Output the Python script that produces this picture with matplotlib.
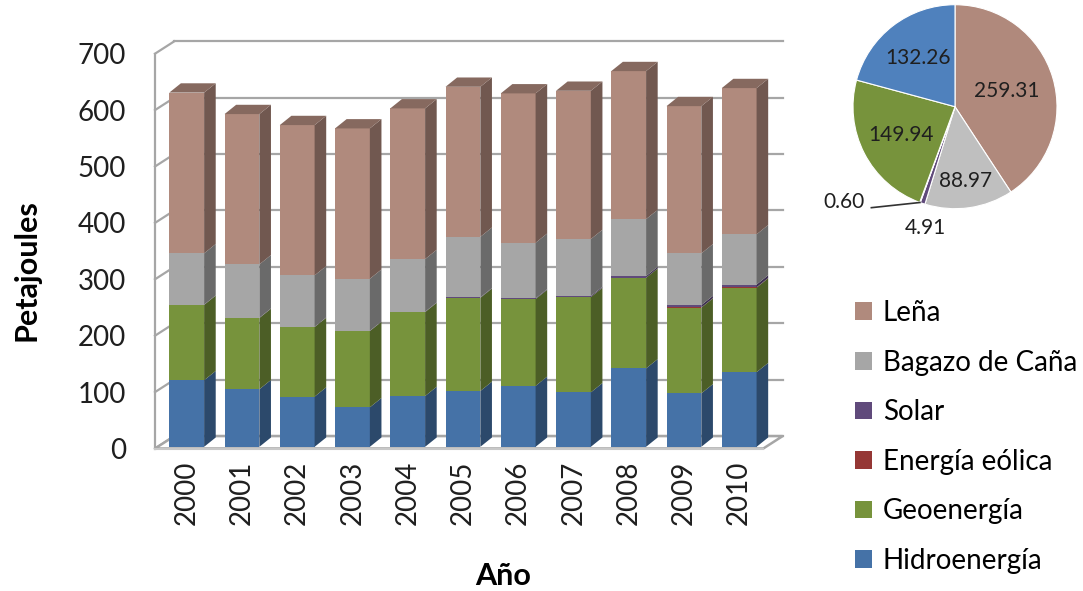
import matplotlib
matplotlib.use('Agg')
import numpy as np
import matplotlib.pyplot as plt
from matplotlib.patches import Polygon, Patch
from matplotlib.colors import to_rgb

plt.rcParams['font.family'] = ['Lato', 'DejaVu Sans']

# Energía primaria renovable, petajoules
years = ['2000', '2001', '2002', '2003', '2004', '2005', '2006', '2007', '2008', '2009', '2010']
hidro = [118.0, 102.0, 89.0, 70.0, 90.0, 99.0, 108.0, 96.5, 139.0, 94.7, 132.26]
geo = [133.6, 126.3, 123.3, 135.2, 148.8, 165.1, 153.9, 168.9, 160.7, 152.0, 149.94]
eolica = [0.0, 0.0, 0.0, 0.0, 0.0, 0.0, 0.0, 0.0, 0.0, 0.3, 0.60]
solar = [0.4, 0.4, 0.5, 0.5, 0.6, 0.8, 1.2, 1.8, 3.0, 4.2, 4.91]
bagazo = [91.0, 94.7, 91.1, 92.2, 93.4, 107.4, 98.6, 101.1, 101.0, 91.7, 88.97]
lena = [285.0, 266.5, 266.5, 266.6, 267.2, 266.0, 264.9, 262.9, 262.4, 261.1, 259.31]

# bottom to top of each stack
names = ['Hidroenergía', 'Geoenergía', 'Energía eólica', 'Solar', 'Bagazo de Caña', 'Leña']
stack = [hidro, geo, eolica, solar, bagazo, lena]
bar_colors = ['#4572A7', '#77933C', '#953735', '#604A7B', '#A6A6A6', '#B08A7D']
pie_colors = ['#4F81BD', '#77933C', '#953735', '#604A7B', '#BFBFBF', '#B0897C']

W, H = 1083, 591
fig = plt.figure(figsize=(W / 100, H / 100), dpi=100)

# ---- 3D-looking stacked columns ----
ax = fig.add_axes([155 / W, (H - 448.5) / H, 635 / W, 420.2 / H])
x_left, x_right = -0.574, 10.92
ax.set_xlim(x_left, x_right)
ax.set_ylim(0, 745)
for s in ax.spines.values():
    s.set_visible(False)
ax.patch.set_visible(False)

WALL_DX, WALL_DY = 0.35, 22.0
x_floor_r = 10.437
grid_c = '#A6A6A6'

# back wall + left wall gridlines
for v in range(0, 701, 100):
    ax.plot([x_left + WALL_DX, x_floor_r + WALL_DX], [v + WALL_DY, v + WALL_DY],
            color=grid_c, lw=1.6, zorder=1, clip_on=False)
    ax.plot([x_left, x_left + WALL_DX], [v, v + WALL_DY],
            color=grid_c, lw=1.6, zorder=1, clip_on=False)
ax.plot([x_left, x_left], [0, 700], color=grid_c, lw=1.6, zorder=1, clip_on=False)

# floor
floor = Polygon([(x_left, 0), (x_floor_r, 0), (x_floor_r + WALL_DX, WALL_DY),
                 (x_left + WALL_DX, WALL_DY)], closed=True, facecolor='white',
                edgecolor=grid_c, lw=1.8, zorder=1, clip_on=False)
ax.add_patch(floor)
ax.plot([x_left, x_floor_r], [-1.5, -1.5], color='#C8C8C8', lw=1.5, zorder=1, clip_on=False)

BAR_W = 0.63
SIDE_DX, SIDE_DY = 0.21, 16.5
BAR_LIFT = 3.0
x = np.arange(len(years))


def shade(c, f):
    r, g, b = to_rgb(c)
    return (r * f, g * f, b * f)


bottom = np.full(len(years), BAR_LIFT)
for vals, col in zip(stack, bar_colors):
    vals = np.array(vals)
    ax.bar(x, vals, BAR_W, bottom=bottom, color=col, linewidth=0, zorder=3)
    side = shade(col, 0.64)
    for xi, b0, v in zip(x, bottom, vals):
        if v <= 0:
            continue
        xr = xi + BAR_W / 2
        ax.add_patch(Polygon([(xr, b0), (xr + SIDE_DX, b0 + SIDE_DY),
                              (xr + SIDE_DX, b0 + v + SIDE_DY), (xr, b0 + v)],
                             closed=True, facecolor=side, lw=0, zorder=3))
    bottom = bottom + vals

# top faces
top_c = shade(bar_colors[-1], 0.76)
for xi, t in zip(x, bottom):
    xl, xr = xi - BAR_W / 2, xi + BAR_W / 2
    ax.add_patch(Polygon([(xl, t), (xl + SIDE_DX, t + SIDE_DY),
                          (xr + SIDE_DX, t + SIDE_DY), (xr, t)],
                         closed=True, facecolor=top_c, lw=0, zorder=3))

ax.set_yticks(range(0, 701, 100))
ax.set_xticks(x, labels=years, rotation=90)
ax.tick_params(axis='y', length=0, pad=21, labelsize=20, labelcolor='#1F1F1F')
ax.tick_params(axis='x', length=0, pad=9, labelsize=20, labelcolor='#1F1F1F')
ax.set_ylabel('Petajoules', fontsize=22, fontweight='bold')
ax.yaxis.set_label_coords(-0.18, 0.425)
ax.set_xlabel('Año', fontsize=22, fontweight='bold')
ax.xaxis.set_label_coords(0.548, -0.27)

# ---- pie of the last year ----
pie_vals = [s[-1] for s in stack][::-1]
pie_cols = pie_colors[::-1]
pax = fig.add_axes([(955 - 102) / W, (H - 106.7 - 102) / H, 204 / W, 204 / H])
wedges, _ = pax.pie(pie_vals, colors=pie_cols, startangle=90, counterclock=False,
                    wedgeprops=dict(edgecolor='white', linewidth=0.8))
pax.set_xlim(-1, 1)
pax.set_ylim(-1, 1)

label_r = [0.53, 0.74, None, None, 0.6, 0.6]
for w, v, r in zip(wedges, pie_vals, label_r):
    if r is None:
        continue
    a = np.deg2rad((w.theta1 + w.theta2) / 2)
    pax.text(r * np.cos(a), r * np.sin(a), f'{v:.2f}', ha='center', va='center',
             fontsize=15, color='#1F1F1F')

# small slices labelled outside
a_eol = np.deg2rad((wedges[3].theta1 + wedges[3].theta2) / 2)
pax.text(-0.29, -1.19, f'{pie_vals[2]:.2f}', ha='center', va='center',
         fontsize=15, color='#1F1F1F', clip_on=False)
pax.text(-1.09, -0.93, f'{pie_vals[3]:.2f}', ha='center', va='center',
         fontsize=15, color='#1F1F1F', clip_on=False)
pax.plot([-0.82, np.cos(a_eol)], [-0.99, np.sin(a_eol)], color='#333333', lw=1.2,
         clip_on=False)

# ---- legend ----
handles = [Patch(facecolor=c, label=n) for n, c in zip(names, bar_colors)][::-1]
fig.legend(handles=handles, loc='upper left', bbox_to_anchor=(855 / W, 1 - 300 / H),
           frameon=False, fontsize=20, handlelength=0.6, handleheight=0.6,
           handletextpad=0.4, labelspacing=0.85, borderpad=0, borderaxespad=0)

fig.savefig('out.png', dpi=100)
